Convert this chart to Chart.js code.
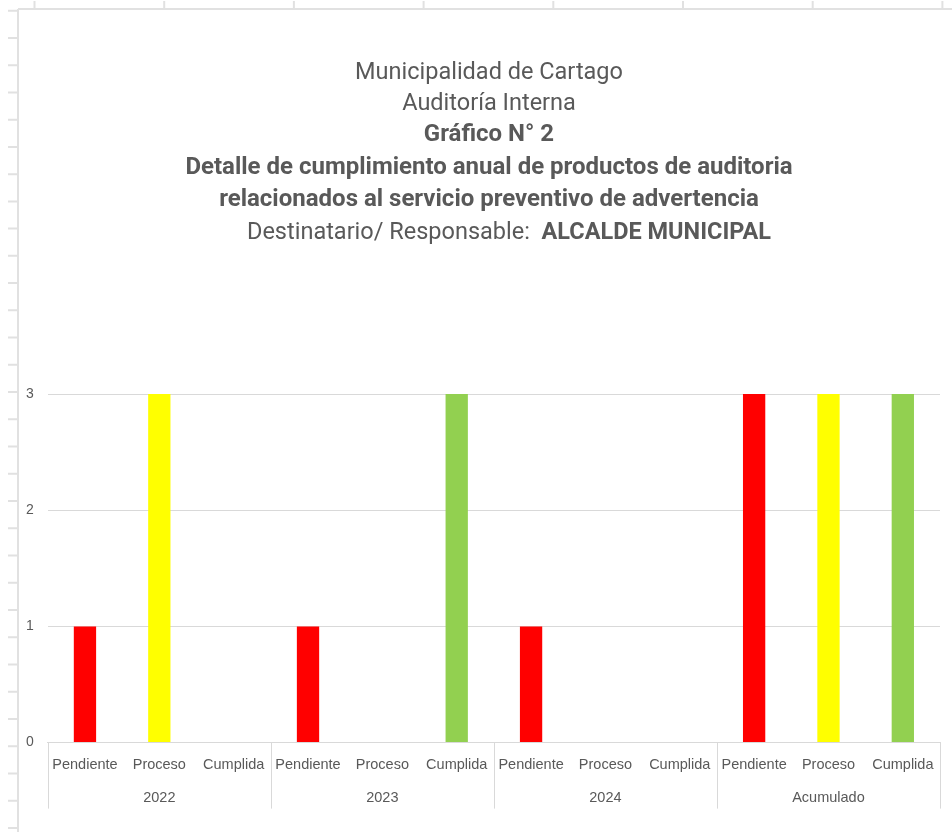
<!DOCTYPE html>
<html>
<head>
<meta charset="utf-8">
<script src="https://cdn.jsdelivr.net/npm/chart.js@4"></script>
<style>
  html, body { margin: 0; padding: 0; background: #fff; }
  #wrap { width: 952px; height: 832px; position: relative; }
</style>
</head>
<body>
<div id="wrap"><canvas id="chart"></canvas></div>
<script>
const groups = ["2022", "2023", "2024", "Acumulado"];
const statuses = ["Pendiente", "Proceso", "Cumplida"];
const values = [1, 3, 0, 1, 0, 3, 1, 0, 0, 3, 3, 3];
const statusColors = ["#ff0000", "#ffff00", "#92d050"];
const yTicks = [0, 1, 2, 3];

const titleLines = [
  { text: "Municipalidad de Cartago", bold: false },
  { text: "Auditoría Interna", bold: false },
  { text: "Gráfico N° 2", bold: true },
  { text: "Detalle de cumplimiento anual de productos de auditoria", bold: true },
  { text: "relacionados al servicio preventivo de advertencia", bold: true },
];
const recipientLabel = "Destinatario/ Responsable:  ";
const recipientName = "ALCALDE MUNICIPAL";

const labels = [];
const colors = [];
groups.forEach(() => {
  statuses.forEach((s, i) => {
    labels.push(s);
    colors.push(statusColors[i]);
  });
});

const textColor = "#595959";
const lineColor = "#d9d9d9";
const titleFont = "Roboto, 'Liberation Sans', sans-serif";
const axisFont = "'Liberation Sans', Arial, sans-serif";

// spreadsheet cells behind the chart
const sheetPlugin = {
  id: "sheet",
  beforeDraw(chart) {
    const ctx = chart.ctx;
    ctx.save();
    ctx.fillStyle = "#fff";
    ctx.fillRect(0, 0, chart.width, chart.height);
    ctx.strokeStyle = "#e1e1e1";
    ctx.lineWidth = 2;
    ctx.beginPath();
    ctx.moveTo(18, 9); ctx.lineTo(chart.width, 9);
    ctx.moveTo(18, 9); ctx.lineTo(18, chart.height);
    for (let x = 34.5; x < chart.width; x += 129.7) {
      ctx.moveTo(x, 1); ctx.lineTo(x, 9);
    }
    for (let y = 10.7; y < chart.height; y += 27.24) {
      ctx.moveTo(8, y); ctx.lineTo(18, y);
    }
    ctx.stroke();
    ctx.restore();
  },
};

const titlePlugin = {
  id: "titles",
  afterDraw(chart) {
    const ctx = chart.ctx;
    const cx = 489;
    ctx.save();
    ctx.fillStyle = textColor;
    ctx.textBaseline = "middle";
    ctx.textAlign = "center";
    const ys = [73, 104, 135, 168, 200];
    titleLines.forEach((l, i) => {
      ctx.font = l.bold ? "bold 24px " + titleFont : "23.5px " + titleFont;
      ctx.fillText(l.text, cx, ys[i]);
    });
    ctx.textAlign = "left";
    ctx.font = "23.5px " + titleFont;
    const w1 = ctx.measureText(recipientLabel).width;
    ctx.font = "bold 23.5px " + titleFont;
    const w2 = ctx.measureText(recipientName).width;
    const x = 509 - (w1 + w2) / 2;
    ctx.font = "23.5px " + titleFont;
    ctx.fillText(recipientLabel, x, 233);
    ctx.font = "bold 23.5px " + titleFont;
    ctx.fillText(recipientName, x + w1, 233);
    ctx.restore();
  },
};

// second level of the category axis: year groups and separators
const groupAxisPlugin = {
  id: "groupAxis",
  afterDraw(chart) {
    const ctx = chart.ctx;
    const xs = chart.scales.x;
    const bottom = chart.chartArea.bottom;
    const step = (xs.right - xs.left) / labels.length;
    ctx.save();
    ctx.strokeStyle = lineColor;
    ctx.lineWidth = 1;
    ctx.beginPath();
    for (let g = 0; g <= groups.length; g++) {
      const x = Math.round(xs.left + g * statuses.length * step) + 0.5;
      ctx.moveTo(x, bottom);
      ctx.lineTo(x, bottom + 66);
    }
    ctx.stroke();
    ctx.fillStyle = textColor;
    ctx.font = "14.5px " + axisFont;
    ctx.textAlign = "center";
    ctx.textBaseline = "middle";
    groups.forEach((g, i) => {
      const x = xs.left + (i + 0.5) * statuses.length * step;
      ctx.fillText(g, x, bottom + 55);
    });
    ctx.restore();
  },
};

new Chart(document.getElementById("chart"), {
  type: "bar",
  data: {
    labels: labels,
    datasets: [
      {
        data: values,
        backgroundColor: colors,
        barPercentage: 0.3,
        categoryPercentage: 1,
      },
    ],
  },
  options: {
    responsive: true,
    maintainAspectRatio: false,
    animation: false,
    layout: { padding: { left: 12, right: 12, top: 394, bottom: 44 } },
    plugins: {
      legend: { display: false },
      tooltip: { enabled: false },
    },
    scales: {
      x: {
        grid: { display: false, drawTicks: false },
        border: { color: lineColor },
        ticks: {
          color: textColor,
          font: { family: axisFont, size: 14.5 },
          maxRotation: 0,
          autoSkip: false,
          padding: 14,
        },
      },
      y: {
        min: yTicks[0],
        max: yTicks[yTicks.length - 1],
        afterBuildTicks(axis) {
          axis.ticks = yTicks.map((v) => ({ value: v }));
        },
        grid: { color: lineColor, drawTicks: false },
        border: { display: false },
        ticks: {
          color: textColor,
          font: { family: axisFont, size: 14 },
          padding: 14,
        },
      },
    },
  },
  plugins: [sheetPlugin, titlePlugin, groupAxisPlugin],
});
</script>
</body>
</html>
